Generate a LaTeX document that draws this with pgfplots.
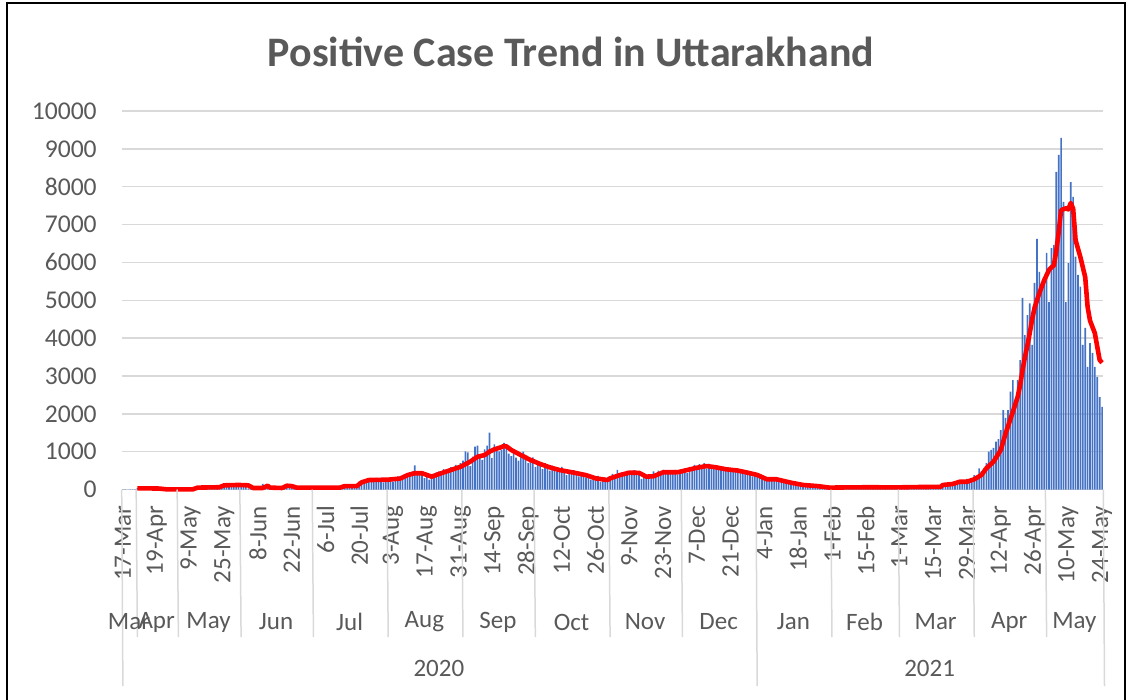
\documentclass[border=0pt]{standalone}
\usepackage{fontspec}
\setmainfont{Carlito}
\usepackage{pgfplots}
\usepackage{pgfplotstable}
\pgfplotsset{compat=1.18}
\definecolor{barblue}{HTML}{4472C4}
\definecolor{gridgray}{HTML}{D9D9D9}
\definecolor{txtgray}{HTML}{595959}
\tikzset{
  sep/.style={gridgray, line width=0.75pt},
  mlab/.style={yshift=-66.25pt, font=\fontsize{12.5}{14}\selectfont, text=txtgray, inner sep=0pt},
  ylab/.style={yshift=-89.25pt, font=\fontsize{12.5}{14}\selectfont, text=txtgray, inner sep=0pt},
}

\pgfplotstableread[row sep=\\]{v\\
1\\2\\0\\1\\3\\4\\
35\\20\\12\\30\\8\\5\\10\\2\\6\\3\\1\\0\\4\\2\\1\\0\\3\\
2\\5\\1\\3\\0\\6\\8\\15\\40\\70\\45\\90\\55\\80\\60\\100\\65\\110\\140\\120\\95\\160\\110\\135\\100\\150\\
110\\130\\60\\30\\45\\20\\55\\35\\70\\150\\90\\40\\25\\50\\30\\45\\60\\35\\120\\95\\80\\40\\55\\30\\60\\45\\35\\70\\40\\55\\
50\\65\\30\\45\\80\\35\\60\\55\\40\\75\\90\\60\\85\\110\\70\\95\\120\\80\\140\\210\\180\\250\\230\\290\\200\\260\\310\\240\\280\\190\\300\\
260\\320\\210\\280\\350\\240\\330\\400\\360\\450\\480\\640\\420\\380\\470\\300\\350\\260\\390\\330\\450\\480\\400\\540\\460\\520\\590\\510\\650\\560\\700\\
760\\1010\\980\\620\\870\\1130\\1160\\900\\780\\1060\\1160\\1500\\830\\1190\\1100\\1010\\1050\\1230\\1120\\950\\880\\1000\\840\\760\\930\\1000\\820\\700\\760\\850\\
600\\720\\650\\540\\700\\610\\500\\630\\560\\480\\520\\600\\450\\380\\490\\420\\510\\400\\350\\440\\380\\320\\400\\260\\300\\250\\360\\200\\280\\230\\320\\
340\\410\\300\\520\\380\\450\\400\\490\\470\\430\\510\\460\\420\\280\\330\\390\\300\\350\\480\\420\\500\\460\\520\\440\\480\\510\\460\\520\\390\\470\\
480\\560\\430\\600\\540\\650\\590\\670\\610\\700\\560\\680\\620\\590\\640\\510\\600\\560\\520\\580\\490\\540\\500\\470\\520\\430\\460\\400\\440\\350\\410\\
330\\300\\360\\250\\290\\240\\310\\220\\260\\200\\230\\180\\210\\160\\190\\140\\170\\120\\150\\100\\130\\110\\90\\120\\80\\100\\70\\90\\60\\75\\50\\
60\\45\\70\\55\\40\\65\\50\\80\\45\\60\\55\\35\\70\\50\\65\\40\\55\\60\\45\\75\\50\\35\\60\\55\\70\\45\\65\\50\\
55\\70\\45\\60\\80\\50\\65\\75\\40\\70\\85\\60\\95\\70\\110\\80\\120\\100\\90\\150\\130\\170\\110\\200\\160\\230\\180\\210\\280\\240\\300\\
380\\330\\560\\480\\560\\700\\1000\\1045\\1100\\1263\\1330\\1570\\2100\\1890\\2100\\2585\\2890\\2200\\2890\\3420\\5060\\4080\\4610\\4920\\3820\\5460\\6620\\5750\\5460\\5610\\
6250\\4950\\6380\\6460\\8390\\8840\\9290\\7600\\4950\\5980\\8120\\7730\\6150\\5670\\5360\\3820\\4270\\3240\\3870\\3610\\3240\\2970\\2440\\2180\\
}\bars

\begin{document}
\begin{tikzpicture}
\useasboundingbox (0,0) rectangle (565pt,-350pt);
\draw[black, line width=1.3pt] (3.5pt,-1.5pt) rectangle (562.5pt,-356pt);
\node[font=\fontsize{21}{25}\selectfont\bfseries, text=txtgray] at (285.5pt,-26pt) {Positive Case Trend in Uttarakhand};
\begin{axis}[
  at={(60.85pt,-244.75pt)}, anchor=south west,
  scale only axis, width=490.8pt, height=189.25pt,
  xmin=-0.5, xmax=406.5, ymin=0, ymax=10000,
  axis line style={draw=none},
  ytick={0,1000,...,10000},
  ymajorgrids, grid style={gridgray, line width=0.75pt},
  major tick length=0pt,
  xtick={0,14,...,406},
  xticklabels={17-Mar,19-Apr,9-May,25-May,8-Jun,22-Jun,6-Jul,20-Jul,3-Aug,17-Aug,31-Aug,14-Sep,28-Sep,12-Oct,26-Oct,9-Nov,23-Nov,7-Dec,21-Dec,4-Jan,18-Jan,1-Feb,15-Feb,1-Mar,15-Mar,29-Mar,12-Apr,26-Apr,10-May,24-May},
  xticklabel style={rotate=90, anchor=east, inner sep=0pt, font=\fontsize{12.5}{14}\selectfont, text=txtgray},
  xticklabel shift=8pt,
  yticklabel style={inner sep=0pt, font=\fontsize{12.8}{14}\selectfont, text=txtgray},
  yticklabel shift=12.3pt,
  scaled y ticks=false,
  /pgf/number format/assume math mode=true,
  /pgf/number format/set thousands separator={},
  clip=false,
]
\addplot[ybar, bar width=0.68, fill=barblue, draw=none] table[x expr=\coordindex, y=v] {\bars};
\addplot[red, line width=2.3pt, line join=round, mark=none] coordinates {
(6,30) (10,30) (15,25) (18,5) (29,5) (31,50) (40,60) (42,110) (48,120) (52,110) (54,40) (58,40) (60,100) (61,50) (66,40) (68,100) (70,90) (72,50) (90,50) (92,90) (97,90) (99,190) (102,250) (110,260) (115,290) (118,380) (121,430) (124,430) (128,340) (132,430) (136,515) (140,600) (144,735) (147,865) (150,910) (152,1000) (154,1060) (157,1120) (158,1150) (159,1140) (161,1045) (165,910) (169,780) (173,675) (177,585) (181,515) (187,445) (192,380) (196,295) (201,250) (202,295) (206,380) (210,445) (214,440) (217,340) (220,350) (224,455) (230,455) (234,515) (238,575) (242,620) (246,585) (250,535) (255,500) (259,445) (263,385) (267,270) (271,270) (277,180) (282,120) (288,90) (293,50) (300,55) (310,60) (320,55) (330,65) (339,70) (340,120) (344,145) (347,205) (350,205) (353,270) (356,385) (358,560) (361,735) (364,1045) (366,1480) (369,2050) (370,2250) (371,2450) (372,2750) (373,3150) (374,3500) (375,3800) (376,4130) (377,4500) (378,4800) (379,5000) (380,5190) (382,5530) (384,5800) (385,5870) (386,5920) (387,6300) (388,6800) (389,7380) (391,7430) (392,7400) (393,7570) (394,7420) (395,6590) (397,6140) (399,5610) (400,4820) (401,4460) (403,4130) (404,3770) (405,3420) (406,3350)
};
% month separators
\draw[sep] (axis cs:5.5,0) -- ++(0,-73.75pt);
\draw[sep] (axis cs:22.5,0) -- ++(0,-73.75pt);
\draw[sep] (axis cs:48.5,0) -- ++(0,-73.75pt);
\draw[sep] (axis cs:78.5,0) -- ++(0,-73.75pt);
\draw[sep] (axis cs:109.5,0) -- ++(0,-73.75pt);
\draw[sep] (axis cs:140.5,0) -- ++(0,-73.75pt);
\draw[sep] (axis cs:170.5,0) -- ++(0,-73.75pt);
\draw[sep] (axis cs:201.5,0) -- ++(0,-73.75pt);
\draw[sep] (axis cs:231.5,0) -- ++(0,-73.75pt);
\draw[sep] (axis cs:293.5,0) -- ++(0,-73.75pt);
\draw[sep] (axis cs:321.5,0) -- ++(0,-73.75pt);
\draw[sep] (axis cs:352.5,0) -- ++(0,-73.75pt);
\draw[sep] (axis cs:382.5,0) -- ++(0,-73.75pt);
% year separators
\draw[sep] (axis cs:-0.5,0) -- ++(0,-98.25pt);
\draw[sep] (axis cs:262.5,0) -- ++(0,-98.25pt);
\draw[sep] (axis cs:406.5,0) -- ++(0,-98.25pt);
% month labels
\node[mlab] at (axis cs:2.5,0) {Mar};
\node[mlab] at (axis cs:14,0) {Apr};
\node[mlab] at (axis cs:35.5,0) {May};
\node[mlab] at (axis cs:63.5,0) {Jun};
\node[mlab] at (axis cs:94,0) {Jul};
\node[mlab] at (axis cs:125,0) {Aug};
\node[mlab] at (axis cs:155.5,0) {Sep};
\node[mlab] at (axis cs:186,0) {Oct};
\node[mlab] at (axis cs:216.5,0) {Nov};
\node[mlab] at (axis cs:247,0) {Dec};
\node[mlab] at (axis cs:278,0) {Jan};
\node[mlab] at (axis cs:307.5,0) {Feb};
\node[mlab] at (axis cs:337,0) {Mar};
\node[mlab] at (axis cs:367.5,0) {Apr};
\node[mlab] at (axis cs:394.5,0) {May};
% year labels
\node[ylab] at (axis cs:131,0) {2020};
\node[ylab] at (axis cs:334.5,0) {2021};
\end{axis}
\end{tikzpicture}
\end{document}
